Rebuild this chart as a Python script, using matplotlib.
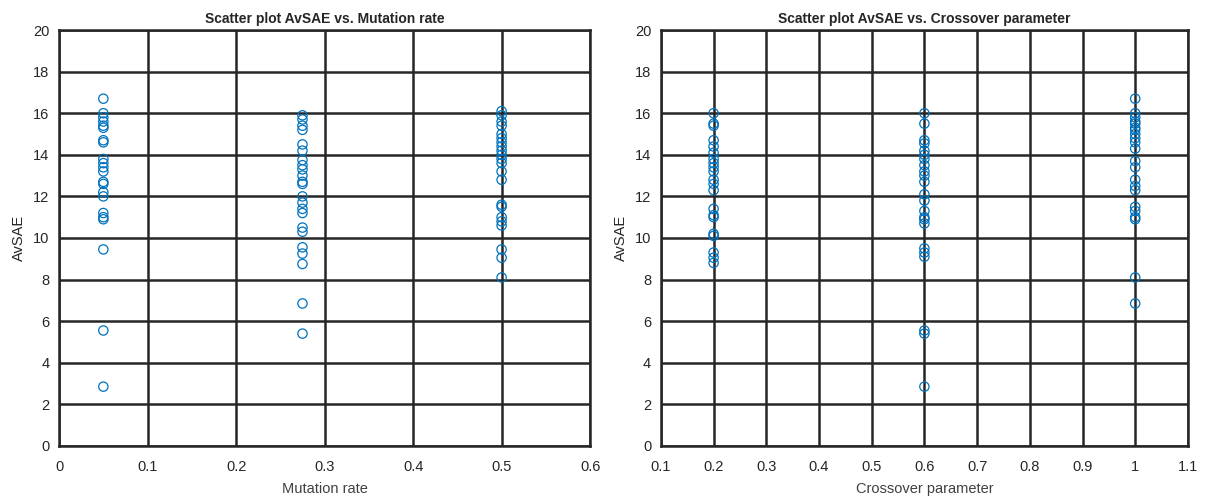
import matplotlib
matplotlib.use("Agg")
from matplotlib import pyplot as plt

plt.rcParams['font.family'] = ['Liberation Sans', 'DejaVu Sans']

# AvSAE values, grouped by mutation rate
mutation_rates = [0.05, 0.275, 0.5]
avsae_mut_005 = [16.7, 16.0, 15.8, 15.6, 15.4, 15.3, 14.7, 14.6, 13.8, 13.6, 13.4,
                 13.2, 12.7, 12.6, 12.2, 12.0, 11.2, 11.0, 10.9, 9.45, 5.55, 2.85]
avsae_mut_0275 = [15.9, 15.7, 15.4, 15.2, 14.5, 14.2, 13.75, 13.5, 13.3, 13.0, 12.7,
                  12.6, 12.0, 11.7, 11.4, 11.2, 10.5, 10.3, 9.55, 9.25, 8.75, 6.85, 5.4]
avsae_mut_05 = [16.1, 15.9, 15.6, 15.4, 15.0, 14.8, 14.6, 14.4, 14.2, 14.0, 13.8,
                13.6, 13.2, 12.8, 11.6, 11.5, 11.0, 10.8, 10.6, 9.45, 9.05, 8.1]

# AvSAE values, grouped by crossover parameter
crossover_params = [0.2, 0.6, 1.0]
avsae_cx_02 = [16.0, 15.5, 15.4, 14.7, 14.4, 14.1, 13.8, 13.6, 13.4, 13.2, 12.8,
               12.6, 12.3, 11.4, 11.1, 11.0, 10.2, 10.1, 9.3, 9.05, 8.8]
avsae_cx_06 = [16.0, 15.5, 14.7, 14.55, 14.2, 14.0, 13.8, 13.5, 13.2, 13.0, 12.7,
               12.1, 11.8, 11.3, 11.0, 10.9, 10.7, 9.5, 9.3, 9.1, 5.55, 5.4, 2.85]
avsae_cx_10 = [16.7, 16.0, 15.8, 15.6, 15.5, 15.3, 15.2, 15.0, 14.8, 14.6, 14.3,
               13.7, 13.4, 12.8, 12.5, 12.3, 11.5, 11.3, 11.0, 10.9, 8.1, 6.85]

blue = '#0072BD'

fig = plt.figure(figsize=(12.06, 5.01), dpi=100)
ax1 = fig.add_axes([0.049, 0.110, 0.4403, 0.830])
ax2 = fig.add_axes([0.548, 0.110, 0.437, 0.830])


def style_axes(ax, xlim, xticks, xticklabels, xlabel, title):
    ax.set_xlim(xlim)
    ax.set_ylim(0, 20)
    ax.set_xticks(xticks)
    ax.set_xticklabels(xticklabels)
    ax.set_yticks(range(0, 21, 2))
    ax.grid(True, color='#262626', linewidth=1.8)
    ax.set_axisbelow(True)
    for sp in ax.spines.values():
        sp.set_color('#262626')
        sp.set_linewidth(1.8)
    ax.tick_params(length=0, labelsize=10.5, colors='#262626')
    ax.tick_params(axis='x', pad=10)
    ax.tick_params(axis='y', pad=7)
    ax.set_xlabel(xlabel, fontsize=10.5, color='#404040', labelpad=6)
    ax.set_ylabel('AvSAE', fontsize=10.5, color='#262626', labelpad=5)
    ax.set_title(title, fontsize=10, fontweight='bold', color='#262626', pad=5)


groups_left = [avsae_mut_005, avsae_mut_0275, avsae_mut_05]
for xv, vals in zip(mutation_rates, groups_left):
    ax1.scatter([xv] * len(vals), vals, s=45, facecolors='none',
                edgecolors=blue, linewidths=0.9, zorder=3)

groups_right = [avsae_cx_02, avsae_cx_06, avsae_cx_10]
for xv, vals in zip(crossover_params, groups_right):
    ax2.scatter([xv] * len(vals), vals, s=45, facecolors='none',
                edgecolors=blue, linewidths=0.9, zorder=3)

style_axes(ax1, (0, 0.6), [0, 0.1, 0.2, 0.3, 0.4, 0.5, 0.6],
           ['0', '0.1', '0.2', '0.3', '0.4', '0.5', '0.6'],
           'Mutation rate', 'Scatter plot AvSAE vs. Mutation rate')
style_axes(ax2, (0.1, 1.1), [0.1 * i for i in range(1, 12)],
           ['0.1', '0.2', '0.3', '0.4', '0.5', '0.6', '0.7', '0.8', '0.9', '1', '1.1'],
           'Crossover parameter', 'Scatter plot AvSAE vs. Crossover parameter')

fig.savefig('out.png', dpi=100)
